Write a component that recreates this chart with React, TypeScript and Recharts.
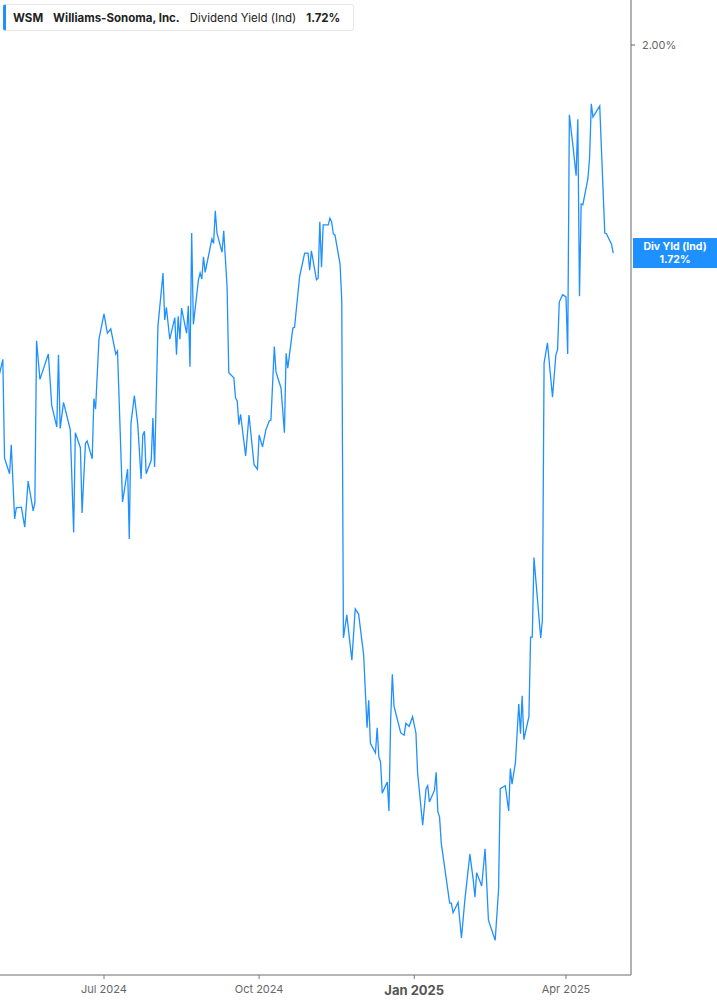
import React from 'react';
import { LineChart, Line, XAxis, YAxis, ReferenceLine } from 'recharts';

const dates: string[] = [
  '2024-04-30', '2024-05-02', '2024-05-03', '2024-05-06', '2024-05-07', '2024-05-09', '2024-05-10', '2024-05-13',
  '2024-05-15', '2024-05-17', '2024-05-20', '2024-05-21', '2024-05-22', '2024-05-24', '2024-05-29', '2024-05-31',
  '2024-06-03', '2024-06-04', '2024-06-05', '2024-06-07', '2024-06-11', '2024-06-13', '2024-06-14', '2024-06-17',
  '2024-06-18', '2024-06-20', '2024-06-21', '2024-06-24', '2024-06-25', '2024-06-26', '2024-06-28', '2024-07-01',
  '2024-07-03', '2024-07-05', '2024-07-08', '2024-07-09', '2024-07-12', '2024-07-15', '2024-07-16', '2024-07-17',
  '2024-07-19', '2024-07-21', '2024-07-23', '2024-07-24', '2024-07-25', '2024-07-26', '2024-07-29', '2024-07-30',
  '2024-07-31', '2024-08-02', '2024-08-05', '2024-08-06', '2024-08-07', '2024-08-09', '2024-08-12', '2024-08-13',
  '2024-08-14', '2024-08-15', '2024-08-16', '2024-08-19', '2024-08-20', '2024-08-21', '2024-08-22', '2024-08-23',
  '2024-08-26', '2024-08-27', '2024-08-28', '2024-08-29', '2024-08-30', '2024-09-03', '2024-09-04', '2024-09-05',
  '2024-09-06', '2024-09-09', '2024-09-10', '2024-09-12', '2024-09-13', '2024-09-16', '2024-09-17', '2024-09-18',
  '2024-09-19', '2024-09-20', '2024-09-23', '2024-09-25', '2024-09-28', '2024-09-30', '2024-10-01', '2024-10-03',
  '2024-10-05', '2024-10-07', '2024-10-08', '2024-10-10', '2024-10-11', '2024-10-14', '2024-10-16', '2024-10-17',
  '2024-10-18', '2024-10-21', '2024-10-22', '2024-10-25', '2024-10-28', '2024-10-30', '2024-10-31', '2024-11-01',
  '2024-11-04', '2024-11-05', '2024-11-06', '2024-11-07', '2024-11-08', '2024-11-11', '2024-11-12', '2024-11-13',
  '2024-11-14', '2024-11-15', '2024-11-18', '2024-11-19', '2024-11-20', '2024-11-22', '2024-11-25', '2024-11-27',
  '2024-11-29', '2024-12-02', '2024-12-04', '2024-12-05', '2024-12-06', '2024-12-09', '2024-12-10', '2024-12-11',
  '2024-12-12', '2024-12-13', '2024-12-16', '2024-12-17', '2024-12-18', '2024-12-19', '2024-12-20', '2024-12-24',
  '2024-12-26', '2024-12-27', '2024-12-29', '2024-12-31', '2025-01-02', '2025-01-03', '2025-01-06', '2025-01-08',
  '2025-01-09', '2025-01-10', '2025-01-13', '2025-01-14', '2025-01-15', '2025-01-16', '2025-01-17', '2025-01-22',
  '2025-01-23', '2025-01-24', '2025-01-27', '2025-01-29', '2025-01-31', '2025-02-03', '2025-02-05', '2025-02-06',
  '2025-02-07', '2025-02-10', '2025-02-12', '2025-02-14', '2025-02-18', '2025-02-20', '2025-02-21', '2025-02-24',
  '2025-02-26', '2025-02-27', '2025-02-28', '2025-03-02', '2025-03-04', '2025-03-05', '2025-03-06', '2025-03-07',
  '2025-03-10', '2025-03-11', '2025-03-12', '2025-03-13', '2025-03-17', '2025-03-18', '2025-03-19', '2025-03-21',
  '2025-03-24', '2025-03-26', '2025-03-27', '2025-03-28', '2025-03-30', '2025-04-01', '2025-04-02', '2025-04-03',
  '2025-04-05', '2025-04-07', '2025-04-08', '2025-04-09', '2025-04-10', '2025-04-11', '2025-04-14', '2025-04-15',
  '2025-04-16', '2025-04-17', '2025-04-21', '2025-04-24', '2025-04-25', '2025-04-28', '2025-04-29',
];

const yields: number[] = [
  1.557, 1.577, 1.444, 1.423, 1.462, 1.362, 1.377, 1.378,
  1.351, 1.413, 1.373, 1.384, 1.602, 1.550, 1.584, 1.515,
  1.486, 1.583, 1.484, 1.519, 1.482, 1.344, 1.478, 1.458,
  1.370, 1.464, 1.467, 1.443, 1.524, 1.510, 1.604, 1.638,
  1.612, 1.618, 1.584, 1.588, 1.385, 1.429, 1.335, 1.491,
  1.528, 1.490, 1.416, 1.475, 1.480, 1.423, 1.441, 1.498,
  1.432, 1.622, 1.693, 1.630, 1.647, 1.604, 1.633, 1.583,
  1.635, 1.604, 1.646, 1.612, 1.649, 1.567, 1.747, 1.624,
  1.684, 1.693, 1.685, 1.715, 1.694, 1.739, 1.733, 1.777,
  1.747, 1.721, 1.750, 1.674, 1.559, 1.552, 1.525, 1.521,
  1.489, 1.503, 1.447, 1.502, 1.435, 1.429, 1.475, 1.459,
  1.482, 1.494, 1.495, 1.594, 1.560, 1.538, 1.478, 1.585,
  1.565, 1.619, 1.620, 1.688, 1.720, 1.720, 1.697, 1.723,
  1.684, 1.686, 1.762, 1.701, 1.758, 1.758, 1.767, 1.762,
  1.746, 1.744, 1.705, 1.657, 1.202, 1.233, 1.172, 1.241,
  1.234, 1.179, 1.081, 1.118, 1.060, 1.047, 1.081, 1.042,
  1.035, 0.993, 1.008, 0.969, 1.091, 1.153, 1.110, 1.074,
  1.071, 1.087, 1.083, 1.096, 1.074, 1.020, 0.950, 0.999,
  1.003, 0.981, 0.997, 1.021, 0.968, 0.961, 0.926, 0.845,
  0.845, 0.832, 0.846, 0.798, 0.849, 0.911, 0.876, 0.853,
  0.886, 0.868, 0.918, 0.822, 0.795, 0.863, 0.999, 1.003,
  0.969, 1.026, 1.005, 1.034, 1.113, 1.073, 1.124, 1.065,
  1.096, 1.203, 1.203, 1.310, 1.202, 1.226, 1.572, 1.599,
  1.526, 1.583, 1.590, 1.654, 1.664, 1.661, 1.584, 1.906,
  1.867, 1.824, 1.900, 1.662, 1.786, 1.785, 1.820, 1.849,
  1.921, 1.903, 1.918, 1.747, 1.746, 1.732, 1.720,
];

const xTickDates: string[] = ['2024-07-01', '2024-10-01', '2025-01-01', '2025-04-01'];
const yTickValues: number[] = [2.0];

const ticker = 'WSM';
const company = 'Williams-Sonoma, Inc.';
const metric = 'Dividend Yield (Ind)';
const tagLabel = 'Div Yld (Ind)';

const MONTHS = ['Jan', 'Feb', 'Mar', 'Apr', 'May', 'Jun', 'Jul', 'Aug', 'Sep', 'Oct', 'Nov', 'Dec'];
const DAY = 86400000;
const toTs = (d: string) => Date.parse(d + 'T00:00:00Z');

const data = dates.map((d, i) => ({ t: toTs(d), v: yields[i] }));
const lastValue = yields[yields.length - 1];
const fmtPct = (v: number) => `${v.toFixed(2)}%`;

const X_DOMAIN: [number, number] = [toTs('2024-04-30') + 0.32 * DAY, toTs('2024-04-30') + 374.55 * DAY];
const Y_DOMAIN: [number, number] = [0.7482, 2.0606];

const BLUE = '#1e90ff';
const FONT = 'Inter, "Noto Sans", sans-serif';

const XTick = (props: any) => {
  const { x, y, payload } = props;
  const d = new Date(payload.value);
  const major = d.getUTCMonth() === 0;
  const label = `${MONTHS[d.getUTCMonth()]} ${d.getUTCFullYear()}`;
  return (
    <text
      x={x}
      y={y}
      dy={major ? 14 : 12}
      textAnchor="middle"
      fill={major ? '#555' : '#666'}
      fontSize={major ? 13 : 11}
      fontWeight={major ? 700 : 400}
      fontFamily={FONT}
    >
      {label}
    </text>
  );
};

const ValueTag = (props: any) => {
  const vb = props.viewBox || {};
  const x = (vb.x ?? 0) + (vb.width ?? 0) + 2;
  const cy = vb.y ?? 0;
  return (
    <g>
      <rect x={x} y={cy - 15} width={84} height={30} fill={BLUE} />
      <text x={x + 42} y={cy - 3} textAnchor="middle" fill="#fff" fontSize={10.5} fontWeight={700} fontFamily={FONT}>
        {tagLabel}
      </text>
      <text x={x + 42} y={cy + 10} textAnchor="middle" fill="#fff" fontSize={10.5} fontWeight={700} fontFamily={FONT}>
        {fmtPct(lastValue)}
      </text>
    </g>
  );
};

export default function App() {
  return (
    <div style={{ position: 'absolute', left: 0, top: 0, width: 717, height: 1005, background: '#fff' }}>
      <LineChart width={717} height={1005} data={data} margin={{ top: 0, right: 0, bottom: 0, left: 0 }}>
        <XAxis
          dataKey="t"
          type="number"
          domain={X_DOMAIN}
          allowDataOverflow
          ticks={xTickDates.map(toTs)}
          interval={0}
          tick={<XTick />}
          tickSize={4}
          height={30}
          axisLine={{ stroke: '#b5b5b5', strokeWidth: 2 }}
          tickLine={{ stroke: '#777' }}
        />
        <YAxis
          orientation="right"
          type="number"
          domain={Y_DOMAIN}
          allowDataOverflow
          ticks={yTickValues}
          interval={0}
          tickFormatter={fmtPct}
          width={86}
          tickSize={4}
          tickMargin={7}
          axisLine={{ stroke: '#999', strokeWidth: 1.5 }}
          tickLine={{ stroke: '#666' }}
          tick={{ fill: '#666', fontSize: 11, fontFamily: FONT }}
        />
        <ReferenceLine y={lastValue} stroke="none" label={<ValueTag />} />
        <Line dataKey="v" type="linear" stroke={BLUE} strokeWidth={1.3} dot={false} isAnimationActive={false} />
      </LineChart>
      <div
        style={{
          position: 'absolute',
          left: 3,
          top: 4,
          width: 351,
          height: 27,
          boxSizing: 'border-box',
          border: '1px solid #e8e8e8',
          borderLeft: `3px solid ${BLUE}`,
          borderRadius: 3,
          background: '#fff',
          display: 'flex',
          alignItems: 'center',
          paddingLeft: 7,
          fontFamily: FONT,
          fontSize: 11.5,
          color: '#222',
          whiteSpace: 'nowrap',
        }}
      >
        <span style={{ fontWeight: 700, marginRight: 10 }}>{ticker}</span>
        <span style={{ fontWeight: 700, marginRight: 10 }}>{company}</span>
        <span style={{ fontWeight: 400, marginRight: 10 }}>{metric}</span>
        <span style={{ fontWeight: 700 }}>{fmtPct(lastValue)}</span>
      </div>
    </div>
  );
}
